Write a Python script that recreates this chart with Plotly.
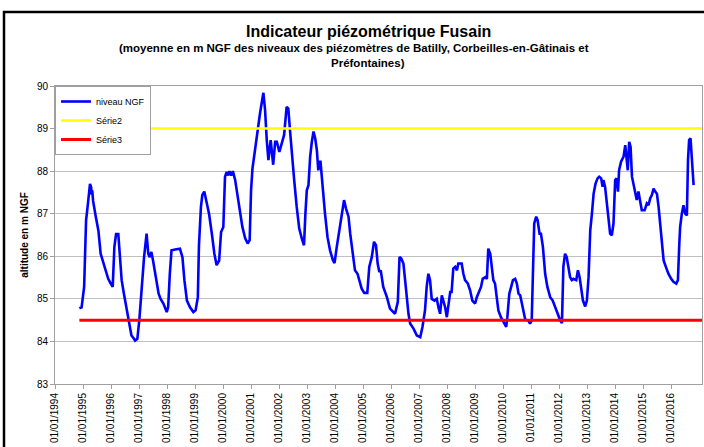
import plotly.graph_objects as go

# ---- data ----
years = [
    1994.87, 1994.95, 1995.04, 1995.11, 1995.15, 1995.19, 1995.25, 1995.29, 1995.31, 1995.33,
    1995.36, 1995.45, 1995.55, 1995.63, 1995.73, 1995.82, 1995.90, 1995.99, 1996.06, 1996.12,
    1996.18, 1996.26, 1996.32, 1996.38, 1996.46, 1996.55, 1996.65, 1996.73, 1996.80, 1996.86,
    1996.94, 1997.01, 1997.10, 1997.18, 1997.27, 1997.33, 1997.38, 1997.44, 1997.50, 1997.61,
    1997.70, 1997.77, 1997.87, 1997.99, 1998.04, 1998.10, 1998.16, 1998.29, 1998.40, 1998.46,
    1998.55, 1998.62, 1998.71, 1998.82, 1998.94, 1999.02, 1999.10, 1999.14, 1999.21, 1999.26,
    1999.33, 1999.42, 1999.50, 1999.60, 1999.69, 1999.77, 1999.86, 1999.93, 2000.01, 2000.07,
    2000.13, 2000.18, 2000.23, 2000.29, 2000.35, 2000.43, 2000.53, 2000.61, 2000.69, 2000.79,
    2000.88, 2000.95, 2001.00, 2001.05, 2001.14, 2001.24, 2001.32, 2001.44, 2001.50, 2001.56,
    2001.62, 2001.70, 2001.79, 2001.86, 2001.92, 2002.01, 2002.13, 2002.18, 2002.27, 2002.33,
    2002.39, 2002.45, 2002.54, 2002.63, 2002.72, 2002.81, 2002.89, 2002.94, 2002.99, 2003.05,
    2003.11, 2003.17, 2003.23, 2003.29, 2003.35, 2003.40, 2003.44, 2003.48, 2003.52, 2003.58,
    2003.64, 2003.73, 2003.82, 2003.92, 2003.98, 2004.06, 2004.15, 2004.24, 2004.32, 2004.39,
    2004.48, 2004.54, 2004.63, 2004.71, 2004.80, 2004.87, 2004.95, 2005.04, 2005.15, 2005.22,
    2005.31, 2005.39, 2005.46, 2005.52, 2005.58, 2005.63, 2005.72, 2005.85, 2005.96, 2006.02,
    2006.14, 2006.24, 2006.30, 2006.36, 2006.44, 2006.50, 2006.56, 2006.62, 2006.68, 2006.80,
    2006.92, 2007.04, 2007.12, 2007.21, 2007.27, 2007.33, 2007.39, 2007.45, 2007.55, 2007.63,
    2007.69, 2007.75, 2007.81, 2007.87, 2007.93, 2007.99, 2008.05, 2008.11, 2008.16, 2008.22,
    2008.29, 2008.35, 2008.40, 2008.52, 2008.58, 2008.64, 2008.74, 2008.82, 2008.90, 2009.00,
    2009.06, 2009.14, 2009.21, 2009.27, 2009.36, 2009.42, 2009.47, 2009.54, 2009.60, 2009.65,
    2009.71, 2009.77, 2009.83, 2009.92, 2010.01, 2010.11, 2010.15, 2010.22, 2010.27, 2010.35,
    2010.43, 2010.49, 2010.55, 2010.61, 2010.67, 2010.73, 2010.79, 2010.90, 2010.96, 2011.02,
    2011.06, 2011.11, 2011.18, 2011.23, 2011.30, 2011.35, 2011.42, 2011.50, 2011.58, 2011.68,
    2011.77, 2011.86, 2011.94, 2012.04, 2012.10, 2012.15, 2012.21, 2012.27, 2012.33, 2012.39,
    2012.45, 2012.51, 2012.61, 2012.67, 2012.73, 2012.79, 2012.85, 2012.93, 2012.99, 2013.05,
    2013.11, 2013.17, 2013.23, 2013.30, 2013.37, 2013.43, 2013.50, 2013.55, 2013.58, 2013.64,
    2013.70, 2013.76, 2013.82, 2013.88, 2013.94, 2014.00, 2014.05, 2014.10, 2014.14, 2014.21,
    2014.30, 2014.36, 2014.39, 2014.45, 2014.50, 2014.55, 2014.60, 2014.65, 2014.71, 2014.77,
    2014.83, 2014.89, 2014.95, 2015.05, 2015.13, 2015.19, 2015.25, 2015.31, 2015.37, 2015.43,
    2015.49, 2015.55, 2015.61, 2015.67, 2015.73, 2015.81, 2015.90, 2016.00, 2016.08, 2016.18,
    2016.24, 2016.29, 2016.32, 2016.38, 2016.44, 2016.50, 2016.56, 2016.60, 2016.64, 2016.69,
    2016.74, 2016.80,
]
niveau_ngf = [
    84.78, 84.80, 85.28, 86.85, 87.08, 87.30, 87.70, 87.62, 87.45, 87.55,
    87.30, 86.95, 86.60, 86.06, 85.83, 85.63, 85.47, 85.36, 85.28, 86.22,
    86.52, 86.52, 86.06, 85.44, 85.12, 84.80, 84.38, 84.14, 84.08, 84.02,
    84.06, 84.50, 85.28, 85.98, 86.53, 86.06, 85.98, 86.10, 85.90, 85.51,
    85.12, 85.00, 84.89, 84.69, 84.81, 85.60, 86.14, 86.16, 86.18, 86.18,
    85.98, 85.44, 84.96, 84.80, 84.69, 84.73, 85.04, 86.26, 87.16, 87.44,
    87.52, 87.24, 87.00, 86.53, 86.06, 85.79, 85.90, 86.57, 86.69, 87.87,
    87.98, 87.90, 88.00, 87.90, 88.00, 87.80, 87.36, 87.00, 86.69, 86.42,
    86.30, 86.38, 87.55, 88.06, 88.49, 89.04, 89.36, 89.84, 89.44, 88.73,
    88.26, 88.73, 88.15, 88.69, 88.69, 88.45, 88.77, 88.85, 89.51, 89.47,
    88.96, 88.42, 87.79, 87.16, 86.65, 86.42, 86.26, 87.00, 87.55, 87.67,
    88.34, 88.69, 88.93, 88.77, 88.49, 88.02, 88.22, 88.22, 87.87, 87.47,
    87.00, 86.45, 86.14, 85.91, 85.84, 86.22, 86.61, 87.00, 87.32, 87.12,
    86.93, 86.53, 86.06, 85.67, 85.59, 85.44, 85.24, 85.14, 85.14, 85.75,
    85.98, 86.34, 86.26, 85.83, 85.63, 85.67, 85.28, 85.04, 84.77, 84.73,
    84.65, 84.93, 85.98, 85.95, 85.83, 85.44, 85.04, 84.65, 84.42, 84.30,
    84.14, 84.10, 84.34, 84.73, 85.28, 85.59, 85.44, 85.00, 84.96, 85.00,
    84.80, 84.65, 85.08, 84.96, 84.80, 84.57, 84.93, 85.16, 85.16, 85.71,
    85.75, 85.67, 85.83, 85.83, 85.59, 85.44, 85.36, 85.20, 84.96, 84.89,
    85.04, 85.16, 85.28, 85.47, 85.51, 85.47, 86.18, 86.06, 85.75, 85.44,
    85.36, 85.04, 84.73, 84.57, 84.45, 84.34, 84.57, 85.12, 85.24, 85.44,
    85.47, 85.36, 85.12, 85.08, 84.89, 84.65, 84.51, 84.49, 84.42, 84.49,
    85.75, 86.77, 86.93, 86.85, 86.53, 86.53, 86.22, 85.59, 85.28, 85.04,
    84.96, 84.80, 84.65, 84.49, 84.43, 85.75, 86.06, 85.98, 85.75, 85.51,
    85.44, 85.47, 85.44, 85.67, 85.51, 85.20, 84.96, 84.82, 84.96, 85.51,
    86.61, 87.00, 87.47, 87.71, 87.83, 87.87, 87.83, 87.63, 87.79, 87.63,
    87.24, 86.85, 86.53, 86.49, 86.77, 87.79, 87.83, 87.52, 88.02, 88.22,
    88.34, 88.61, 88.42, 88.02, 88.69, 88.57, 87.87, 87.71, 87.55, 87.32,
    87.52, 87.24, 87.08, 87.08, 87.24, 87.20, 87.36, 87.44, 87.59, 87.52,
    87.47, 87.16, 86.69, 86.30, 85.90, 85.75, 85.59, 85.47, 85.40, 85.36,
    85.44, 86.30, 86.69, 87.00, 87.20, 87.00, 86.96, 88.26, 88.73, 88.77,
    88.34, 87.67,
]
serie_years = [1994.87, 2017.1]
serie2 = [89.0, 89.0]
serie3 = [84.5, 84.5]

tick_years = list(range(1994, 2017))
tick_labels = ["01/01/%d" % y for y in tick_years]

FONT = "Liberation Sans, Arial, sans-serif"

fig = go.Figure()
fig.add_trace(go.Scatter(x=years, y=niveau_ngf, mode="lines", name="niveau NGF",
                         line=dict(color="#0000FF", width=2.6)))
fig.add_trace(go.Scatter(x=serie_years, y=serie2, mode="lines", name="Série2",
                         line=dict(color="#FFFF00", width=2.5)))
fig.add_trace(go.Scatter(x=serie_years, y=serie3, mode="lines", name="Série3",
                         line=dict(color="#FF0000", width=3)))

W, H = 704, 447
L, R, T, B = 55, 2, 86, 63
pw, ph = W - L - R, H - T - B

def px(x):
    return (x - L) / pw

def py(y):
    return (H - B - y) / ph

fig.update_layout(
    width=W, height=H,
    margin=dict(l=L, r=R, t=T, b=B, autoexpand=False),
    paper_bgcolor="white", plot_bgcolor="white",
    font=dict(family=FONT, color="black", size=10),
    showlegend=True,
    legend=dict(x=0, y=1, xanchor="left", yanchor="top",
                bgcolor="white", bordercolor="#A0A0A0", borderwidth=1,
                font=dict(size=9, family=FONT), itemwidth=30,
                tracegroupgap=0),
    xaxis=dict(range=[1994, 2017.1], tickmode="array", tickvals=tick_years,
               ticktext=tick_labels, tickangle=-90, showgrid=False,
               showline=True, linecolor="#A0A0A0", linewidth=1, mirror=True,
               ticks="outside", ticklen=4, tickcolor="#A0A0A0",
               tickfont=dict(size=10, family=FONT), zeroline=False),
    yaxis=dict(range=[83, 90], dtick=1, showgrid=True, gridcolor="#C0C0C0",
               gridwidth=1, showline=True, linecolor="#A0A0A0", linewidth=1,
               mirror=True, ticks="outside", ticklen=4, tickcolor="#A0A0A0",
               tickfont=dict(size=10, family=FONT), zeroline=False,
               title=dict(text="<b>altitude en m NGF</b>", font=dict(size=10, family=FONT),
                          standoff=6)),
    annotations=[
        dict(text="<b>Indicateur piézométrique Fusain</b>", xref="paper", yref="paper",
             x=px(368), y=py(31), xanchor="center", yanchor="middle", showarrow=False,
             font=dict(size=16, family=FONT)),
        dict(text="<b>(moyenne en m NGF des niveaux des piézomètres de Batilly, Corbeilles-en-Gâtinais et</b>",
             xref="paper", yref="paper", x=px(354), y=py(48), xanchor="center",
             yanchor="middle", showarrow=False, font=dict(size=11.5, family=FONT)),
        dict(text="<b>Préfontaines)</b>", xref="paper", yref="paper", x=px(368), y=py(63),
             xanchor="center", yanchor="middle", showarrow=False,
             font=dict(size=11.5, family=FONT)),
    ],
    shapes=[
        dict(type="rect", xref="paper", yref="paper", x0=px(4), x1=px(720),
             y0=py(470), y1=py(12), line=dict(color="black", width=2.5),
             fillcolor="rgba(0,0,0,0)", layer="above"),
    ],
)

fig.write_html("out.html", config={"displayModeBar": False},
               post_script="document.body.style.margin='0';document.body.style.overflow='hidden';")
